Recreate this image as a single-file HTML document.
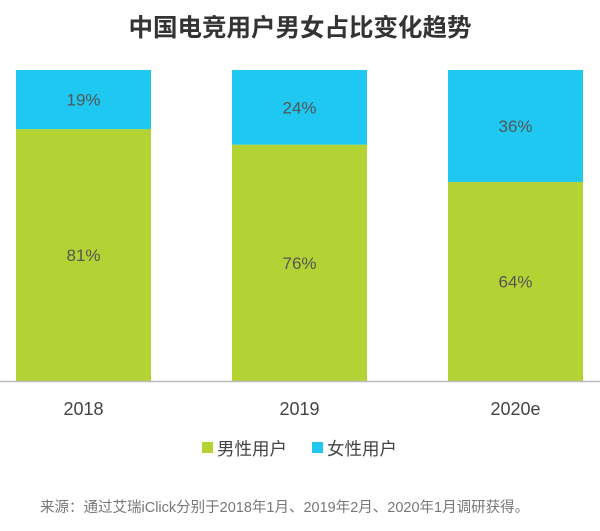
<!DOCTYPE html>
<html><head><meta charset="utf-8">
<style>
html,body{margin:0;padding:0;background:#fff;}
body{width:600px;height:526px;position:relative;overflow:hidden;font-family:"Liberation Sans","Noto Sans CJK SC",sans-serif;}
</style></head>
<body>
<svg width="600" height="526" xmlns="http://www.w3.org/2000/svg">
<text x="300" y="36" text-anchor="middle" font-size="24.5" font-weight="bold" fill="#333" font-family="Liberation Sans, Noto Sans CJK SC, sans-serif">中国电竞用户男女占比变化趋势</text>
<g id="bars"></g>
<line x1="0" y1="381.5" x2="600" y2="381.5" stroke="#bbb" stroke-width="1.5"/>
<g id="xlabels"></g>
<g>
<rect x="202" y="442" width="11" height="11" fill="#b3d334"/>
<text x="217" y="455" font-size="17.5" fill="#444" font-family="Liberation Sans, Noto Sans CJK SC, sans-serif">男性用户</text>
<rect x="312" y="442" width="11" height="11" fill="#1ec8f0"/>
<text x="327" y="455" font-size="17.5" fill="#444" font-family="Liberation Sans, Noto Sans CJK SC, sans-serif">女性用户</text>
</g>
<text x="40" y="512" font-size="14.5" fill="#777" font-family="Liberation Sans, Noto Sans CJK SC, sans-serif">来源：通过艾瑞iClick分别于2018年1月、2019年2月、2020年1月调研获得。</text>
</svg>
<script>
const categories = ["2018","2019","2020e"];
const maleValues = [81,76,64];
const femaleValues = [19,24,36];
const ns="http://www.w3.org/2000/svg";
const top0=70, base=381, left0=16, step=216, bw=135;
function yScale(v){return base-(v/100)*(base-top0);}
function xPos(i){return left0+i*step;}
const g=document.getElementById('bars'), xl=document.getElementById('xlabels');
categories.forEach((c,i)=>{
  const x=xPos(i);
  const ym=yScale(maleValues[i]);
  const yt=yScale(maleValues[i]+femaleValues[i]);
  const rm=document.createElementNS(ns,'rect');
  rm.setAttribute('x',x);rm.setAttribute('y',ym);rm.setAttribute('width',bw);rm.setAttribute('height',base-ym);rm.setAttribute('fill','#b3d334');
  
  
  g.appendChild(rm);
  const rf=document.createElementNS(ns,'rect');
  rf.setAttribute('x',x);rf.setAttribute('y',yt);rf.setAttribute('width',bw);rf.setAttribute('height',ym-yt);rf.setAttribute('fill','#1ec8f0');
  
  
  g.appendChild(rf);
  const lm=document.createElementNS(ns,'text');
  lm.setAttribute('x',x+bw/2);lm.setAttribute('y',(ym+base)/2+6);lm.setAttribute('text-anchor','middle');lm.setAttribute('font-size','17');lm.setAttribute('fill','#555');
  lm.textContent=maleValues[i]+'%';
  
  
  g.appendChild(lm);
  const lf=document.createElementNS(ns,'text');
  lf.setAttribute('x',x+bw/2);lf.setAttribute('y',(ym+yt)/2+6);lf.setAttribute('text-anchor','middle');lf.setAttribute('font-size','17');lf.setAttribute('fill','#555');
  lf.textContent=femaleValues[i]+'%';
  
  
  g.appendChild(lf);
  const t=document.createElementNS(ns,'text');
  t.setAttribute('x',x+bw/2);t.setAttribute('y',415);t.setAttribute('text-anchor','middle');t.setAttribute('font-size','18');t.setAttribute('fill','#444');
  t.textContent=c;
  
  
  xl.appendChild(t);
});
</script>
</body></html>
